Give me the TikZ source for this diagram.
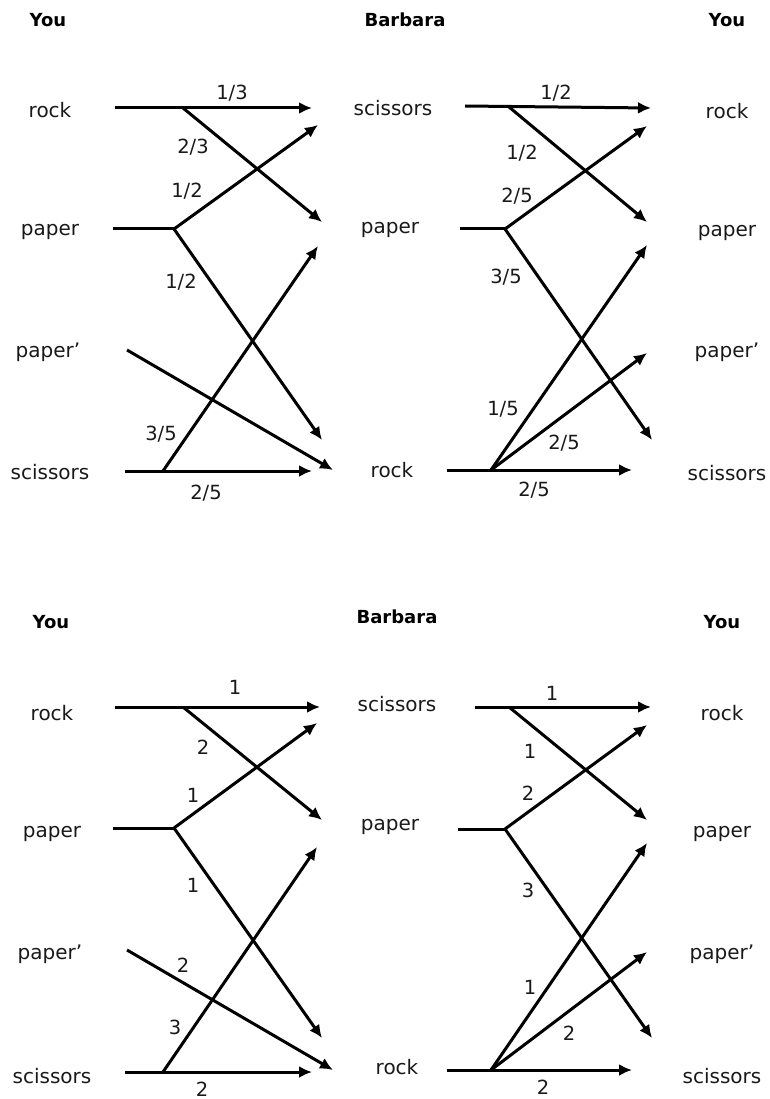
\documentclass[tikz,border=0pt]{standalone}
\usepackage{fontspec}
\setmainfont{DejaVu Sans}
\usepackage{tikz}
\usetikzlibrary{arrows.meta}

\tikzset{
  lbl/.style={inner sep=0pt, text=black!90, font=\fontsize{20}{24}\selectfont},
  head/.style={inner sep=0pt, font=\fontsize{18}{22}\selectfont\bfseries},
  num/.style={inner sep=0pt, text=black!90, font=\fontsize{19.5}{23}\selectfont},
  ln/.style={line width=3pt},
  arr/.style={line width=3pt, -{Latex[length=13pt,width=12pt]}}
}

\begin{document}
\begin{tikzpicture}[x=1pt,y=-1pt]
\useasboundingbox (0,0) rectangle (769,1099);

\node[head] (hYouTL) at (48,20) {You};
\node[head] (hBarT) at (405,20) {Barbara};
\node[head] (hYouTR) at (727,20) {You};

\node[lbl] (tlRock) at (50,110) {rock};
\node[lbl] (tlPaper) at (50,232) {paper};
\node[lbl] (tlPrime) at (48,352) {paper’};
\node[lbl] (tlSci) at (50,472) {scissors};

\node[lbl] (tmSci) at (393,108) {scissors};
\node[lbl] (tmPaper) at (390,230) {paper};
\node[lbl] (tmRock) at (392,470) {rock};

\node[lbl] (trRock) at (727,111) {rock};
\node[lbl] (trPaper) at (727,233) {paper};
\node[lbl] (trPrime) at (727,352) {paper’};
\node[lbl] (trSci) at (727,473) {scissors};

\coordinate (tlRockS) at (115,108);
\coordinate (tlRockB) at (183,108);
\coordinate (tlRockE) at (312,108);
\coordinate (tlRockD) at (322,222);
\coordinate (tlPaperS) at (113,229);
\coordinate (tlPaperB) at (174,229);
\coordinate (tlPaperU) at (318,125);
\coordinate (tlPaperD) at (322,440);
\coordinate (tlPrimeS) at (127,350);
\coordinate (tlPrimeE) at (333,470);
\coordinate (tlSciS) at (125,471);
\coordinate (tlSciB) at (163,471);
\coordinate (tlSciE) at (312,471);
\coordinate (tlSciU) at (318,246);

\draw[arr] (tlRockS) -- (tlRockE);
\draw[arr] (tlRockB) -- (tlRockD);
\draw[ln] (tlPaperS) -- (tlPaperB);
\draw[arr] (tlPaperB) -- (tlPaperU);
\draw[arr] (tlPaperB) -- (tlPaperD);
\draw[arr] (tlPrimeS) -- (tlPrimeE);
\draw[arr] (tlSciS) -- (tlSciE);
\draw[arr] (tlSciB) -- (tlSciU);

\node[num] (n1) at (232,93) {1/3};
\node[num] (n2) at (193,147) {2/3};
\node[num] (n3) at (187,191) {1/2};
\node[num] (n4) at (181,282) {1/2};
\node[num] (n5) at (161,434) {3/5};
\node[num] (n6) at (206,493) {2/5};

\coordinate (trSciS) at (465,106);
\coordinate (trSciB) at (509,107);
\coordinate (trSciE) at (651,108);
\coordinate (trSciD) at (647,222);
\coordinate (trPaperS) at (460,229);
\coordinate (trPaperB) at (505,229);
\coordinate (trPaperU) at (647,126);
\coordinate (trPaperD) at (652,440);
\coordinate (trRockS) at (447,470);
\coordinate (trRockB) at (491,470);
\coordinate (trRockE) at (632,470);
\coordinate (trRockU) at (647,245);
\coordinate (trRockM) at (647,353);

\draw[arr] (trSciS) -- (trSciE);
\draw[arr] (trSciB) -- (trSciD);
\draw[ln] (trPaperS) -- (trPaperB);
\draw[arr] (trPaperB) -- (trPaperU);
\draw[arr] (trPaperB) -- (trPaperD);
\draw[arr] (trRockS) -- (trRockE);
\draw[arr] (trRockB) -- (trRockU);
\draw[arr] (trRockB) -- (trRockM);

\node[num] (n7) at (556,93) {1/2};
\node[num] (n8) at (522,153) {1/2};
\node[num] (n9) at (517,196) {2/5};
\node[num] (n10) at (506,277) {3/5};
\node[num] (n11) at (503,409) {1/5};
\node[num] (n12) at (564,443) {2/5};
\node[num] (n13) at (534,490) {2/5};


\node[head] (hYouBL) at (51,622) {You};
\node[head] (hBarB) at (397,617) {Barbara};
\node[head] (hYouBR) at (722,622) {You};

\node[lbl] (blRock) at (52,713) {rock};
\node[lbl] (blPaper) at (52,834) {paper};
\node[lbl] (blPrime) at (50,954) {paper’};
\node[lbl] (blSci) at (52,1076) {scissors};

\node[lbl] (bmSci) at (397,704) {scissors};
\node[lbl] (bmPaper) at (390,827) {paper};
\node[lbl] (bmRock) at (397,1067) {rock};

\node[lbl] (brRock) at (722,713) {rock};
\node[lbl] (brPaper) at (722,834) {paper};
\node[lbl] (brPrime) at (722,954) {paper’};
\node[lbl] (brSci) at (722,1076) {scissors};

\coordinate (blRockS) at (115,707);
\coordinate (blRockB) at (183,707);
\coordinate (blRockE) at (320,707);
\coordinate (blRockD) at (322,820);
\coordinate (blPaperS) at (113,828);
\coordinate (blPaperB) at (174,828);
\coordinate (blPaperU) at (317,723);
\coordinate (blPaperD) at (322,1038);
\coordinate (blPrimeS) at (127,950);
\coordinate (blPrimeE) at (333,1070);
\coordinate (blSciS) at (125,1072);
\coordinate (blSciB) at (163,1072);
\coordinate (blSciE) at (312,1072);
\coordinate (blSciU) at (317,847);

\draw[arr] (blRockS) -- (blRockE);
\draw[arr] (blRockB) -- (blRockD);
\draw[ln] (blPaperS) -- (blPaperB);
\draw[arr] (blPaperB) -- (blPaperU);
\draw[arr] (blPaperB) -- (blPaperD);
\draw[arr] (blPrimeS) -- (blPrimeE);
\draw[arr] (blSciS) -- (blSciE);
\draw[arr] (blSciB) -- (blSciU);

\node[num] (m1) at (235,687) {1};
\node[num] (m2) at (203,747) {2};
\node[num] (m3) at (193,795) {1};
\node[num] (m4) at (193,885) {1};
\node[num] (m5) at (183,965) {2};
\node[num] (m6) at (175,1027) {3};
\node[num] (m7) at (202,1089) {2};

\coordinate (brSciS) at (475,707);
\coordinate (brSciB) at (509,707);
\coordinate (brSciE) at (651,707);
\coordinate (brSciD) at (647,820);
\coordinate (brPaperS) at (458,829);
\coordinate (brPaperB) at (505,829);
\coordinate (brPaperU) at (647,725);
\coordinate (brPaperD) at (652,1038);
\coordinate (brRockS) at (447,1070);
\coordinate (brRockB) at (491,1070);
\coordinate (brRockE) at (632,1070);
\coordinate (brRockU) at (647,843);
\coordinate (brRockM) at (647,952);

\draw[arr] (brSciS) -- (brSciE);
\draw[arr] (brSciB) -- (brSciD);
\draw[ln] (brPaperS) -- (brPaperB);
\draw[arr] (brPaperB) -- (brPaperU);
\draw[arr] (brPaperB) -- (brPaperD);
\draw[arr] (brRockS) -- (brRockE);
\draw[arr] (brRockB) -- (brRockU);
\draw[arr] (brRockB) -- (brRockM);

\node[num] (m8) at (552,693) {1};
\node[num] (m9) at (530,751) {1};
\node[num] (m10) at (528,793) {2};
\node[num] (m11) at (528,890) {3};
\node[num] (m12) at (530,987) {1};
\node[num] (m13) at (569,1033) {2};
\node[num] (m14) at (543,1087) {2};

\end{tikzpicture}
\end{document}
